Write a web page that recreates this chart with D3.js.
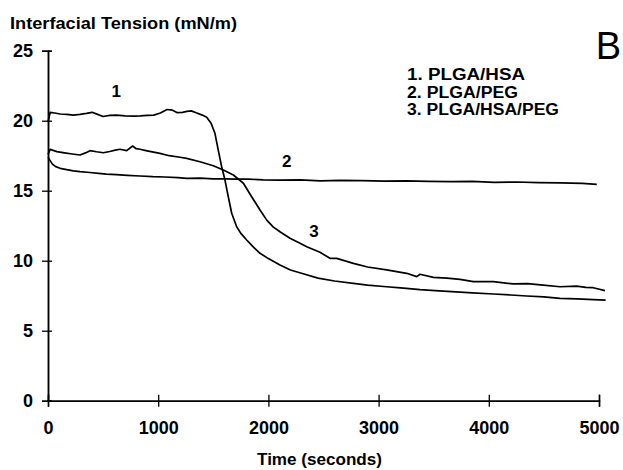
<!DOCTYPE html>
<html>
<head>
<meta charset="utf-8">
<script src="https://cdn.jsdelivr.net/npm/d3@7"></script>
<style>
  body { margin: 0; background: #fff; }
  text { font-family: "Liberation Sans", Arial, sans-serif; font-weight: bold; fill: #000; }
</style>
</head>
<body>
<div id="chart"></div>
<script>
// tick values
var xTicks = [0, 1000, 2000, 3000, 4000, 5000];
var yTicks = [0, 5, 10, 15, 20, 25];

// legend / series names
var seriesNames = ["1. PLGA/HSA", "2. PLGA/PEG", "3. PLGA/HSA/PEG"];

// 1. PLGA/HSA
var time1 = [0, 20, 60, 110, 170, 230, 290, 350, 400, 450, 500, 560, 620, 700, 780, 840, 900, 960, 1020, 1080, 1130, 1170, 1220, 1260, 1300, 1350, 1400, 1440, 1480, 1515, 1545, 1576, 1606, 1636, 1667, 1712, 1750, 1803, 1860, 1924, 2000, 2105, 2200, 2300, 2450, 2600, 2771, 2900, 3073, 3200, 3376, 3550, 3740, 3850, 4042, 4200, 4344, 4500, 4646, 4800, 4950, 5060];
var tension1 = [19.9, 20.6, 20.55, 20.48, 20.45, 20.4, 20.45, 20.52, 20.6, 20.45, 20.3, 20.38, 20.4, 20.35, 20.33, 20.34, 20.38, 20.4, 20.55, 20.8, 20.75, 20.58, 20.6, 20.67, 20.7, 20.55, 20.4, 20.25, 19.81, 19.1, 17.9, 16.71, 15.76, 14.57, 13.39, 12.43, 11.95, 11.48, 11.0, 10.53, 10.15, 9.69, 9.34, 9.1, 8.76, 8.55, 8.38, 8.26, 8.14, 8.06, 7.93, 7.84, 7.76, 7.7, 7.62, 7.55, 7.48, 7.41, 7.31, 7.27, 7.22, 7.19];

// 2. PLGA/PEG
var time2 = [0, 15, 40, 70, 110, 170, 230, 290, 380, 460, 530, 620, 720, 835, 950, 1060, 1180, 1260, 1380, 1500, 1620, 1700, 1820, 1950, 2100, 2290, 2470, 2650, 2850, 3050, 3250, 3450, 3650, 3850, 4050, 4250, 4450, 4650, 4850, 4980];
var tension2 = [17.4, 17.2, 16.9, 16.72, 16.6, 16.5, 16.42, 16.36, 16.3, 16.24, 16.19, 16.15, 16.1, 16.05, 16.0, 15.98, 15.93, 15.88, 15.9, 15.85, 15.84, 15.83, 15.82, 15.78, 15.76, 15.78, 15.7, 15.74, 15.72, 15.68, 15.7, 15.66, 15.65, 15.66, 15.6, 15.62, 15.58, 15.56, 15.52, 15.45];

// 3. PLGA/HSA/PEG
var time3 = [0, 20, 80, 150, 220, 290, 340, 381, 440, 502, 560, 610, 653, 714, 768, 800, 835, 900, 1016, 1100, 1198, 1258, 1379, 1500, 1591, 1682, 1773, 1848, 1924, 1985, 2045, 2105, 2196, 2287, 2348, 2468, 2559, 2620, 2771, 2900, 3073, 3255, 3346, 3376, 3497, 3620, 3739, 3860, 4042, 4223, 4350, 4495, 4646, 4797, 4880, 4948, 5054];
var tension3 = [17.6, 17.95, 17.79, 17.7, 17.62, 17.55, 17.7, 17.86, 17.78, 17.71, 17.8, 17.9, 17.96, 17.86, 18.19, 18.0, 17.96, 17.85, 17.67, 17.5, 17.39, 17.31, 17.07, 16.78, 16.48, 16.12, 15.53, 14.57, 13.62, 12.9, 12.4, 12.07, 11.6, 11.25, 11.0, 10.6, 10.17, 10.17, 9.81, 9.55, 9.34, 9.1, 8.86, 9.03, 8.81, 8.75, 8.67, 8.5, 8.5, 8.34, 8.36, 8.26, 8.14, 8.19, 8.1, 8.07, 7.86];

// curve number labels
var curveLabels = [
    { text: "1", t: 620, v: 21.7 },
    { text: "2", t: 2166, v: 16.7 },
    { text: "3", t: 2414, v: 11.7 }
];

var w = 623;
var h = 470;

var svg = d3.select("#chart")
    .append("svg")
    .attr("width", w)
    .attr("height", h);

var x = d3.scaleLinear().domain([0, 5000]).range([48, 599]);
var y = d3.scaleLinear().domain([0, 25]).range([400.7, 50.7]);

// y axis: labels + ticks on the left, short ticks on the right
svg.append("g")
    .attr("transform", "translate(" + x(0) + ",0)")
    .call(d3.axisLeft(y).tickValues(yTicks).tickSize(6).tickPadding(9));
svg.append("g")
    .attr("transform", "translate(" + x(0) + ",0)")
    .call(d3.axisRight(y).tickValues(yTicks).tickSize(4).tickFormat(""));

// x axis: ticks crossing the line
svg.append("g")
    .attr("transform", "translate(0," + y(0) + ")")
    .call(d3.axisBottom(x).tickValues(xTicks).tickSize(6).tickPadding(15).tickFormat(d3.format("d")));
svg.append("g")
    .attr("transform", "translate(0," + y(0) + ")")
    .call(d3.axisTop(x).tickValues(xTicks).tickSize(6).tickFormat(""));

svg.selectAll(".domain").attr("stroke", "#000").attr("stroke-width", 1.5);
svg.selectAll(".tick line").attr("stroke", "#000").attr("stroke-width", 1.3);
svg.selectAll(".tick text")
    .style("font-size", "18px")
    .style("font-family", "'Liberation Sans', Arial, sans-serif")
    .style("font-weight", "bold")
    .attr("fill", "#000");

var line = d3.line()
    .x(function (d) { return x(d[0]); })
    .y(function (d) { return y(d[1]); });

var series = [
    d3.zip(time1, tension1),
    d3.zip(time2, tension2),
    d3.zip(time3, tension3)
];

svg.selectAll("path.curve")
    .data(series)
    .enter()
    .append("path")
    .attr("class", "curve")
    .attr("d", line)
    .attr("fill", "none")
    .attr("stroke", "#000")
    .attr("stroke-width", 1.7)
    .attr("stroke-linejoin", "round");

svg.selectAll("text.clabel")
    .data(curveLabels)
    .enter()
    .append("text")
    .attr("class", "clabel")
    .attr("x", function (d) { return x(d.t); })
    .attr("y", function (d) { return y(d.v); })
    .attr("text-anchor", "middle")
    .style("font-size", "17px")
    .text(function (d) { return d.text; });

// legend
svg.selectAll("text.legend")
    .data(seriesNames)
    .enter()
    .append("text")
    .attr("class", "legend")
    .attr("x", 407)
    .attr("y", function (d, i) { return 80 + i * 17.5; })
    .attr("textLength", function (d, i) { return [118, 111, 152][i]; })
    .attr("lengthAdjust", "spacingAndGlyphs")
    .style("font-size", "16px")
    .text(function (d) { return d; });

// titles
svg.append("text")
    .attr("x", 10)
    .attr("y", 29)
    .attr("textLength", 227)
    .attr("lengthAdjust", "spacingAndGlyphs")
    .style("font-size", "17px")
    .text("Interfacial Tension (mN/m)");

svg.append("text")
    .attr("x", 257)
    .attr("y", 465)
    .attr("textLength", 125)
    .attr("lengthAdjust", "spacingAndGlyphs")
    .style("font-size", "16px")
    .text("Time (seconds)");

svg.append("text")
    .attr("x", 621)
    .attr("y", 59)
    .attr("text-anchor", "end")
    .style("font-size", "38px")
    .style("font-weight", "normal")
    .text("B");
</script>
</body>
</html>
